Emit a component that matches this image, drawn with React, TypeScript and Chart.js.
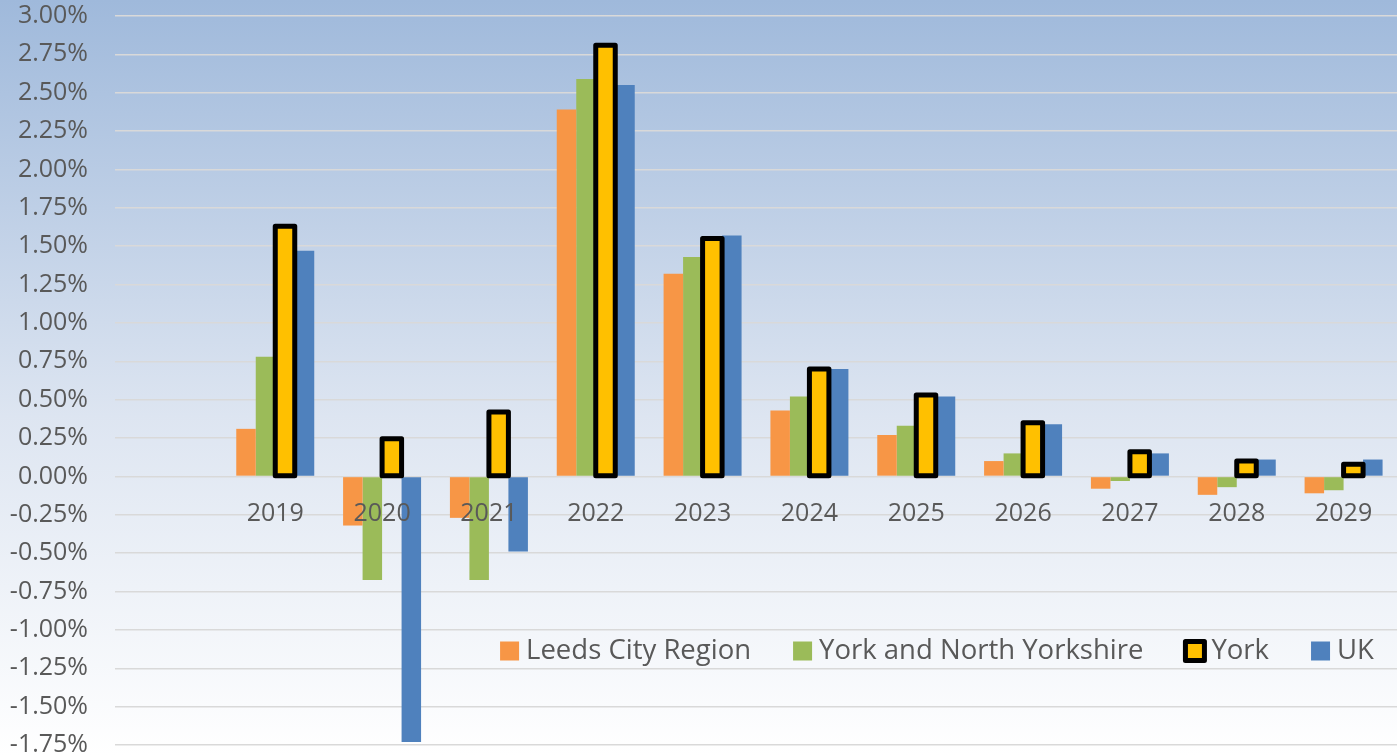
import React, { useEffect, useRef } from "react";
import { Chart, registerables } from "chart.js";

Chart.register(...registerables);

const categories = ["", "2019", "2020", "2021", "2022", "2023", "2024", "2025", "2026", "2027", "2028", "2029"];
const leedsCityRegion = [null, 0.31, -0.32, -0.27, 2.39, 1.32, 0.43, 0.27, 0.1, -0.08, -0.12, -0.11];
const yorkNorthYorkshire = [null, 0.78, -0.675, -0.675, 2.59, 1.43, 0.52, 0.33, 0.15, -0.03, -0.07, -0.09];
const york = [null, 1.63, 0.245, 0.42, 2.81, 1.55, 0.7, 0.53, 0.35, 0.16, 0.1, 0.08];
const uk = [null, 1.47, -1.73, -0.49, 2.55, 1.57, 0.7, 0.52, 0.34, 0.15, 0.11, 0.11];
const seriesNames = ["Leeds City Region", "York and North Yorkshire", "York", "UK"];
const seriesColors = ["#f79646", "#9bbb59", "#ffc000", "#4f81bd"];
const yMin = -1.75;
const yMax = 3.0;
const yStep = 0.25;

const FONT = "'Open Sans', 'Noto Sans', sans-serif";
const TEXT = "#595959";

const bgPlugin = {
  id: "bgGradient",
  beforeDraw(chart: any) {
    const { ctx, width, height } = chart;
    const g = ctx.createLinearGradient(0, 0, 0, height);
    g.addColorStop(0, "#9fb9db");
    g.addColorStop(0.55, "#dde5f1");
    g.addColorStop(1, "#ffffff");
    ctx.save();
    ctx.fillStyle = g;
    ctx.fillRect(0, 0, width, height);
    ctx.restore();
  },
};

const overlayPlugin = {
  id: "overlay",
  afterDatasetsDraw(chart: any) {
    const { ctx } = chart;
    const meta = chart.getDatasetMeta(2);
    ctx.save();
    ctx.strokeStyle = "#000000";
    ctx.lineWidth = 5;
    ctx.lineJoin = "round";
    meta.data.forEach((el: any, i: number) => {
      if (york[i] == null) return;
      const p = el.getProps(["x", "y", "base", "width"], true);
      const top = Math.min(p.y, p.base);
      const h = Math.abs(p.base - p.y);
      ctx.strokeRect(p.x - p.width / 2, top, p.width, h);
    });
    ctx.restore();

    // category labels near the zero line
    const xs = chart.scales.x;
    const ys = chart.scales.y;
    const y0 = ys.getPixelForValue(0);
    ctx.save();
    ctx.fillStyle = TEXT;
    ctx.font = `25px ${FONT}`;
    ctx.textAlign = "center";
    ctx.textBaseline = "middle";
    categories.forEach((c, i) => {
      ctx.fillText(c, xs.getPixelForTick(i), y0 + 37);
    });
    ctx.restore();
  },
  afterDraw(chart: any) {
    const { ctx } = chart;
    ctx.save();
    ctx.font = `27.5px ${FONT}`;
    ctx.textBaseline = "middle";
    const box = 19;
    const gapText = 7;
    const gapItem = 42;
    const widths = seriesNames.map((n) => ctx.measureText(n).width);
    let total = 0;
    widths.forEach((w, i) => {
      total += box + gapText + w + (i < widths.length - 1 ? gapItem : 0);
    });
    const center = 937;
    let x = center - total / 2;
    const yc = 651;
    seriesNames.forEach((n, i) => {
      ctx.fillStyle = seriesColors[i];
      ctx.fillRect(x, yc - box / 2, box, box);
      if (i === 2) {
        ctx.strokeStyle = "#000";
        ctx.lineWidth = 5;
        ctx.lineJoin = "round";
        ctx.strokeRect(x, yc - box / 2, box, box);
      }
      x += box + gapText;
      ctx.fillStyle = TEXT;
      ctx.fillText(n, x, yc);
      x += widths[i] + gapItem;
    });
    ctx.restore();
  },
};

export default function App() {
  const ref = useRef<HTMLCanvasElement | null>(null);
  useEffect(() => {
    if (!ref.current) return;
    const data = [leedsCityRegion, yorkNorthYorkshire, york, uk];
    const chart = new Chart(ref.current, {
      type: "bar",
      data: {
        labels: categories,
        datasets: seriesNames.map((name, i) => ({
          label: name,
          data: data[i],
          backgroundColor: seriesColors[i],
          borderWidth: 0,
          categoryPercentage: 0.73,
          barPercentage: 1.0,
        })),
      },
      options: {
        responsive: false,
        animation: false,
        devicePixelRatio: 1,
        layout: { padding: { top: 16, bottom: 11, left: 0, right: 0 } },
        plugins: {
          legend: { display: false },
          tooltip: { enabled: false },
        },
        scales: {
          x: {
            display: false,
            grid: { display: false },
          },
          y: {
            min: yMin,
            max: yMax,
            border: { display: false },
            grid: { color: "#d9d9d9", lineWidth: 1.5, drawTicks: false },
            ticks: {
              stepSize: yStep,
              padding: 27,
              color: TEXT,
              font: { family: FONT, size: 25 },
              callback: (v: any) => Number(v).toFixed(2) + "%",
            },
            afterFit: (scale: any) => {
              scale.width = 115;
              scale.paddingTop = 0;
              scale.paddingBottom = 0;
            },
          },
        },
      },
      plugins: [bgPlugin, overlayPlugin],
    });
    return () => chart.destroy();
  }, []);
  return (
    <div style={{ position: "fixed", left: 0, top: 0, width: 1397, height: 756 }}>
      <canvas ref={ref} width={1397} height={756} style={{ display: "block" }} />
    </div>
  );
}
